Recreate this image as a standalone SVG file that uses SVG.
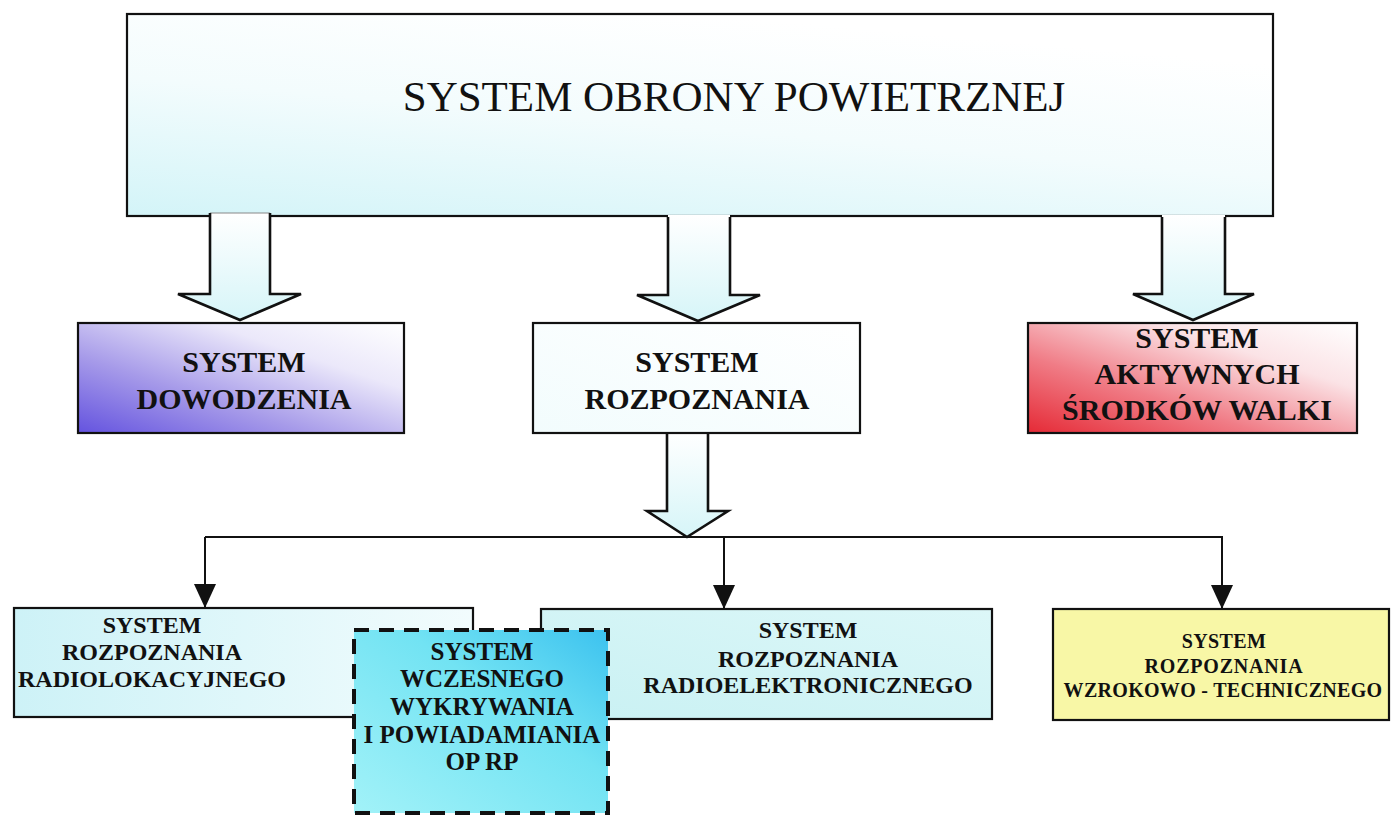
<svg xmlns="http://www.w3.org/2000/svg" width="1391" height="815" viewBox="0 0 1391 815">
<defs>
<style>
.box{stroke:#111;stroke-width:2.2}
.lbl{font-family:"Liberation Serif","Times New Roman",serif;font-weight:bold;fill:#111;text-anchor:middle}
.title{font-family:"Liberation Serif","Times New Roman",serif;fill:#111;text-anchor:middle;font-size:43px}
.line{stroke:#111;stroke-width:2;fill:none}
.arrowOut{stroke:#111;stroke-width:2.6;fill:none;stroke-linejoin:miter}
</style>
<linearGradient id="gTop" x1="0" y1="1" x2="0.5" y2="0">
<stop offset="0" stop-color="#d3f4f8"/><stop offset="0.55" stop-color="#f3fcfd"/><stop offset="1" stop-color="#ffffff"/>
</linearGradient>
<linearGradient id="gArrow" x1="0" y1="0" x2="0" y2="1">
<stop offset="0" stop-color="#ffffff"/><stop offset="1" stop-color="#d6f5f8"/>
</linearGradient>
<linearGradient id="gDow" x1="0" y1="1" x2="1" y2="0">
<stop offset="0" stop-color="#6453df"/><stop offset="0.35" stop-color="#a69ae9"/><stop offset="0.7" stop-color="#ebe8fa"/><stop offset="1" stop-color="#ffffff"/>
</linearGradient>
<linearGradient id="gAkt" x1="0" y1="1" x2="1" y2="0">
<stop offset="0" stop-color="#e52a36"/><stop offset="0.35" stop-color="#f07c86"/><stop offset="0.7" stop-color="#fbe3e6"/><stop offset="1" stop-color="#ffffff"/>
</linearGradient>
<linearGradient id="gRoz" x1="0" y1="1" x2="1" y2="0">
<stop offset="0" stop-color="#f2fcfd"/><stop offset="1" stop-color="#ffffff"/>
</linearGradient>
<linearGradient id="gRadio" x1="0" y1="0" x2="1" y2="0">
<stop offset="0" stop-color="#cdf2f7"/><stop offset="1" stop-color="#f2fcfd"/>
</linearGradient>
<linearGradient id="gElek" x1="0" y1="1" x2="1" y2="0">
<stop offset="0" stop-color="#c9f1f3"/><stop offset="1" stop-color="#dcf7f8"/>
</linearGradient>
<linearGradient id="gWcz" x1="0" y1="1" x2="1" y2="0">
<stop offset="0" stop-color="#a2f2f8"/><stop offset="0.6" stop-color="#72e3f3"/><stop offset="1" stop-color="#3cc2ef"/>
</linearGradient>
<marker id="tri" viewBox="0 0 24 22" refX="24" refY="11" markerWidth="24" markerHeight="22" markerUnits="userSpaceOnUse" orient="auto">
<path d="M0,0 L24,11 L0,22 Z" fill="#111"/>
</marker>
</defs>

<g id="node-obrona">
<rect class="box" x="127" y="14" width="1146" height="202" fill="url(#gTop)"/>
<text class="title" x="734" y="111">SYSTEM OBRONY POWIETRZNEJ</text>
</g>

<g id="connectors">
<polygon points="210,213 270,213 270,294 301,294 240,320 178,294 210,294" fill="url(#gArrow)"/>
<line x1="210" y1="213" x2="270" y2="213" stroke="#888" stroke-width="1"/>
<polyline class="arrowOut" points="210,213 210,294 178,294 240,320 301,294 270,294 270,213"/>
<polygon points="668,215 730,215 730,295 760,295 698,321 637,295 668,295" fill="url(#gArrow)"/>
<polyline class="arrowOut" points="668,217 668,295 637,295 698,321 760,295 730,295 730,217"/>
<polygon points="1162,215 1225,215 1225,294 1254,294 1193,320 1133,294 1162,294" fill="url(#gArrow)"/>
<polyline class="arrowOut" points="1162,217 1162,294 1133,294 1193,320 1254,294 1225,294 1225,217"/>
<polygon points="667,432 708,432 708,511 728,511 687,537 647,511 667,511" fill="url(#gArrow)"/>
<polyline class="arrowOut" points="667,434 667,511 647,511 687,537 728,511 708,511 708,434"/>
<line class="line" x1="205" y1="537" x2="1223" y2="537"/>
<line class="line" x1="205" y1="537" x2="205" y2="608" marker-end="url(#tri)"/>
<line class="line" x1="724" y1="537" x2="724" y2="609" marker-end="url(#tri)"/>
<line class="line" x1="1222" y1="537" x2="1222" y2="609" marker-end="url(#tri)"/>
</g>

<g id="node-dowodzenia">
<rect class="box" x="78" y="323" width="326" height="110" fill="url(#gDow)"/>
<text class="lbl" x="244" y="372" font-size="30">SYSTEM</text>
<text class="lbl" x="244" y="409" font-size="30">DOWODZENIA</text>
</g>

<g id="node-rozpoznania">
<rect class="box" x="533" y="323" width="327" height="110" fill="url(#gRoz)"/>
<text class="lbl" x="697" y="372" font-size="30">SYSTEM</text>
<text class="lbl" x="697" y="409" font-size="30">ROZPOZNANIA</text>
</g>

<g id="node-aktywnych">
<rect class="box" x="1028" y="323" width="329" height="110" fill="url(#gAkt)"/>
<text class="lbl" x="1197" y="348" font-size="30">SYSTEM</text>
<text class="lbl" x="1197" y="384" font-size="30">AKTYWNYCH</text>
<text class="lbl" x="1197" y="420" font-size="30">ŚRODKÓW WALKI</text>
</g>

<g id="node-radiolokacyjnego">
<rect class="box" x="14" y="608" width="459" height="109" fill="url(#gRadio)"/>
<text class="lbl" x="152" y="633" font-size="24">SYSTEM</text>
<text class="lbl" x="152" y="660" font-size="24">ROZPOZNANIA</text>
<text class="lbl" x="152" y="687" font-size="24">RADIOLOKACYJNEGO</text>
</g>

<g id="node-radioelektronicznego">
<rect class="box" x="541" y="609" width="451" height="110" fill="url(#gElek)"/>
<text class="lbl" x="808" y="638" font-size="24">SYSTEM</text>
<text class="lbl" x="808" y="667" font-size="24">ROZPOZNANIA</text>
<text class="lbl" x="808" y="693" font-size="24">RADIOELEKTRONICZNEGO</text>
</g>

<g id="node-wczesnego">
<rect x="354" y="630" width="254" height="183" fill="url(#gWcz)" stroke="#111" stroke-width="4" stroke-dasharray="15,10"/>
<text class="lbl" x="482" y="660" font-size="25">SYSTEM</text>
<text class="lbl" x="482" y="687" font-size="25">WCZESNEGO</text>
<text class="lbl" x="482" y="715" font-size="25">WYKRYWANIA</text>
<text class="lbl" x="482" y="743" font-size="25">I POWIADAMIANIA</text>
<text class="lbl" x="482" y="770" font-size="25">OP RP</text>
</g>

<g id="node-wzrokowo">
<rect class="box" x="1053" y="609" width="336" height="111" fill="#f8f7a6"/>
<text class="lbl" x="1224" y="648" font-size="20" letter-spacing="0.4">SYSTEM</text>
<text class="lbl" x="1224" y="673" font-size="20" letter-spacing="0.8">ROZPOZNANIA</text>
<text class="lbl" x="1223" y="697" font-size="20" letter-spacing="0.3">WZROKOWO - TECHNICZNEGO</text>
</g>
</svg>
